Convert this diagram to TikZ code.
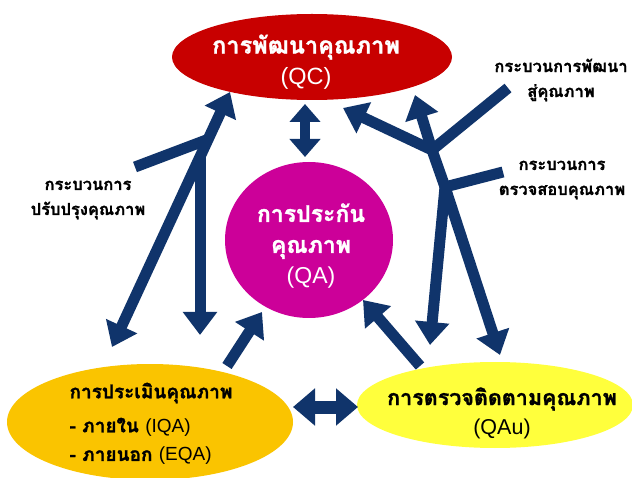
\documentclass[tikz,border=0pt]{standalone}
\usepackage{fontspec}
\newfontfamily\thaifont[Script=Thai, BoldFeatures={FakeBold=1.2}]{Loma}
\newfontfamily\latinfont{Liberation Sans}
\usetikzlibrary{arrows.meta,shapes.geometric}
\definecolor{navy}{RGB}{16,52,107}
\definecolor{qcred}{RGB}{200,0,0}
\definecolor{qamag}{RGB}{204,0,153}
\definecolor{evalorange}{RGB}{250,196,0}
\definecolor{audyellow}{RGB}{255,255,60}
\newcommand{\lat}[1]{{\latinfont\mdseries #1}}
\begin{document}
\begin{tikzpicture}[x=1pt,y=-1pt,
  every node/.style={font=\thaifont\bfseries},
  flowline/.style={draw=navy, line width=11pt},
  onehead/.style={flowline, -{Triangle[width=33pt,length=23pt]}},
  twohead/.style={flowline, {Triangle[width=33pt,length=23pt]}-{Triangle[width=33pt,length=23pt]}},
  bigtext/.style={align=center},
  lbltext/.style={font=\thaifont\bfseries\fontsize{16.5}{25}\selectfont, align=center},
  blob/.style={ellipse, inner sep=0pt}
]
\useasboundingbox (0,0) rectangle (632,478);
\fill[white] (0,0) rectangle (632,478);

% main shapes
\node[blob, fill=qcred, minimum width=280pt, minimum height=86pt] (qc) at (312,57) {};
\node[blob, fill=qamag, minimum width=168pt, minimum height=156pt] (qa) at (309,240) {};
\node[blob, fill=evalorange, minimum width=286pt, minimum height=116pt] (ev) at (150,422) {};
\node[blob, fill=audyellow, minimum width=276pt, minimum height=86pt] (au) at (495,405) {};

% texts
\node[bigtext, text=white, font=\thaifont\bfseries\fontsize{23.5}{31}\selectfont] (qctext) at (306,62) {การพัฒนาคุณภาพ\\\lat{(QC)}};
\node[bigtext, text=white, font=\thaifont\bfseries\fontsize{23}{31}\selectfont] (qatext) at (311,246) {การประกัน\\คุณภาพ\\\lat{(QA)}};
\node[anchor=west, font=\thaifont\bfseries\fontsize{19}{31}\selectfont] (ev1) at (66,393) {การประเมินคุณภาพ};
\node[anchor=west, font=\thaifont\bfseries\fontsize{19}{31}\selectfont] (ev2) at (66,427) {- ภายใน \lat{(IQA)}};
\node[anchor=west, font=\thaifont\bfseries\fontsize{19}{31}\selectfont] (ev3) at (66,456) {- ภายนอก \lat{(EQA)}};
\node[bigtext, font=\thaifont\bfseries\fontsize{21.5}{29}\selectfont] (autext) at (502,413) {การตรวจติดตามคุณภาพ\\\lat{(QAu)}};

\node[lbltext] (lblimp) at (88,200) {กระบวนการ\\ปรับปรุงคุณภาพ};
\node[lbltext] (lbldev) at (561,80) {กระบวนการพัฒนา\\สู่คุณภาพ};
\node[lbltext] (lblchk) at (562,180) {กระบวนการ\\ตรวจสอบคุณภาพ};

% coordinates
\coordinate (lA) at (230,92);
\coordinate (lB) at (112,347);
\coordinate (lV) at (200,156);
\coordinate (lVt) at (200,335);
\coordinate (lS) at (135,167);
\coordinate (lSj) at (209,139);
\coordinate (rJ1) at (432,150);
\coordinate (rJ2) at (445,187);
\coordinate (rTL) at (343,108);
\coordinate (rTM) at (415,95);
\coordinate (rBR) at (500,355);
\coordinate (rBL) at (430,345);
\coordinate (rS1) at (508,88);
\coordinate (rS2) at (503,172);
\coordinate (cT) at (305,104);
\coordinate (cB) at (305,157);
\coordinate (hL) at (293,407);
\coordinate (hR) at (358,407);
\coordinate (eTail) at (227,366);
\coordinate (eTip) at (262,312);
\coordinate (aTail) at (420,366);
\coordinate (aTip) at (363,300);

% left structure
\draw[twohead] (lB) -- (lA);
\draw[onehead] (lV) -- (lVt);
\draw[flowline] (lS) -- (lSj);

% right structure
\draw[twohead, line join=round] (rTL) -- (rJ1) -- (rJ2) -- (rBR);
\draw[onehead] (rJ1) -- (rTM);
\draw[onehead] (rJ2) -- (rBL);
\draw[flowline] (rJ1) -- (rS1);
\draw[flowline] (rJ2) -- (rS2);

% centre arrows
\draw[flowline, line width=10pt, {Triangle[width=30pt,length=18pt]}-{Triangle[width=30pt,length=18pt]}] (cT) -- (cB);
\draw[onehead] (eTail) -- (eTip);
\draw[onehead] (aTail) -- (aTip);
\draw[flowline, line width=13pt, {Triangle[width=36pt,length=22pt]}-{Triangle[width=36pt,length=22pt]}] (hL) -- (hR);
\end{tikzpicture}
\end{document}
